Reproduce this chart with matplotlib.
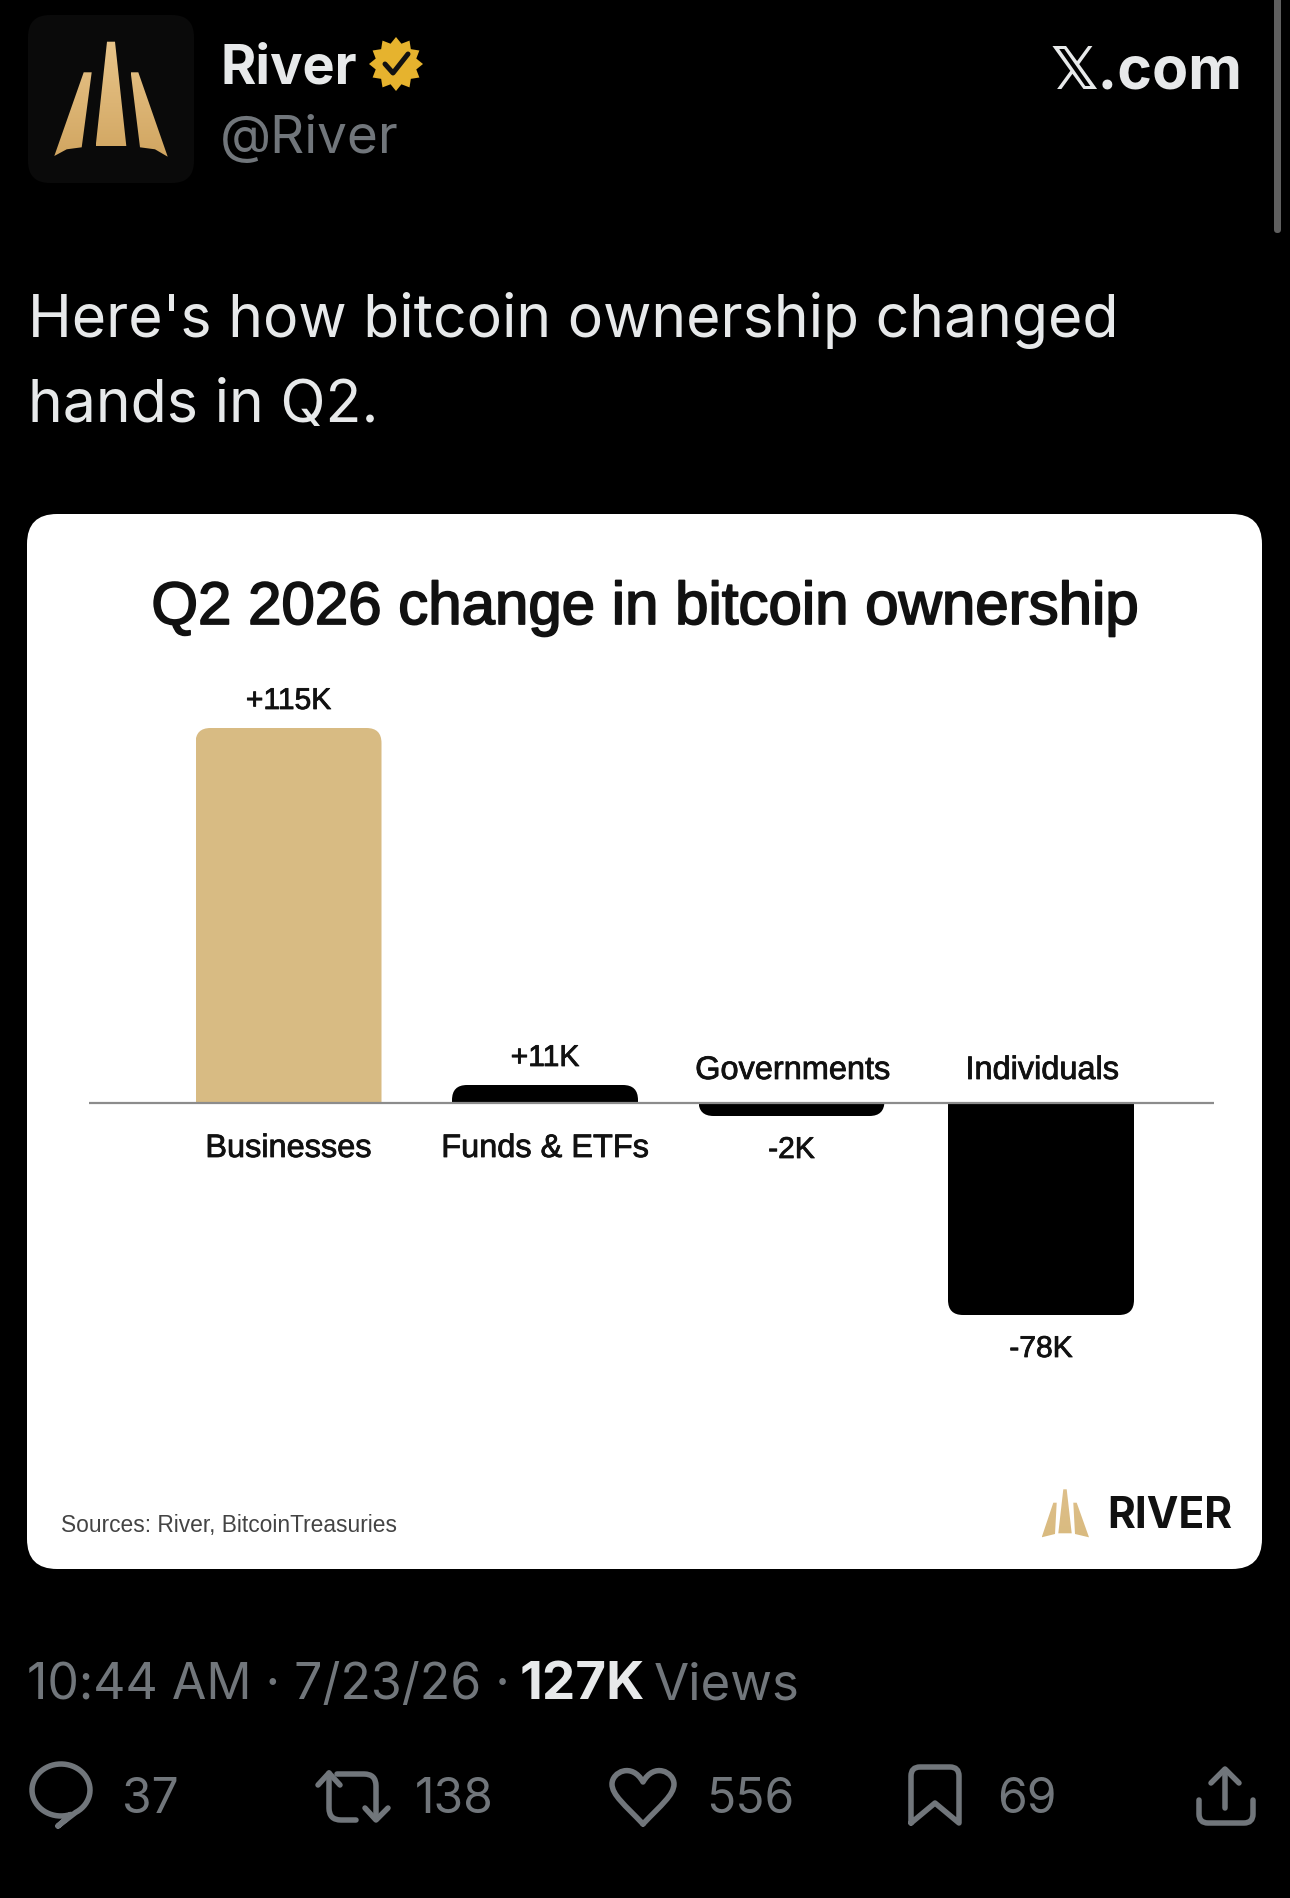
import matplotlib
matplotlib.use('Agg')
import matplotlib.pyplot as plt
import matplotlib.patheffects as pe
import numpy as np
from matplotlib.patches import FancyBboxPatch, PathPatch, Polygon
from matplotlib.path import Path
from matplotlib.transforms import IdentityTransform

# data
categories = ['Businesses', 'Funds & ETFs', 'Governments', 'Individuals']
values = [115, 11, -2, -78]
value_labels = ['+115K', '+11K', '-2K', '-78K']
counts = ['37', '138', '556', '69']

W, H = 1290, 1898
BG = '#000000'
LIGHT = '#e7e9ea'
GREY = '#71767b'
GOLD = '#d8bb83'
FONT = ['Inter', 'DejaVu Sans']
CHART_FONT = ['Liberation Sans', 'DejaVu Sans']
plt.rcParams['font.family'] = FONT


def fs(px):
    # font size in points for a size in pixels at dpi 100
    return px * 0.72


def thick(color, px):
    # the chart text is a medium weight that Liberation Sans does not have
    return [pe.withStroke(linewidth=px * 0.72, foreground=color)]


fig = plt.figure(figsize=(W / 100, H / 100), dpi=100, facecolor=BG)

# full figure axes in pixel coordinates for the tweet around the chart
bg = fig.add_axes([0, 0, 1, 1])
bg.set_xlim(0, W)
bg.set_ylim(H, 0)
bg.axis('off')


def txt(x, y, s, size, color=LIGHT, weight='normal', ha='left', **kw):
    return bg.text(x, y, s, fontsize=fs(size), color=color, fontweight=weight,
                   ha=ha, va='baseline', **kw)


def stroke(verts, codes=None, color=GREY, lw=5.5, **kw):
    p = PathPatch(Path(verts, codes), fill=False, ec=color, lw=lw * 0.72,
                  capstyle='round', joinstyle='round', **kw)
    bg.add_patch(p)


def rounded(x0, y0, x1, y1, r, color, **kw):
    p = FancyBboxPatch((x0, y0), x1 - x0, y1 - y0,
                       boxstyle=f'round,pad=0,rounding_size={r}',
                       fc=color, ec='none', **kw)
    bg.add_patch(p)
    return p


def logo(spikes, y_top, y_bot, c0, c1):
    # gold gradient clipped to the three spikes
    grad = np.linspace(0, 1, 64)[:, None, None]
    img = np.array(c0) * (1 - grad) + np.array(c1) * grad
    for pts in spikes:
        xs = [p[0] for p in pts]
        im = bg.imshow(img, extent=(min(xs), max(xs), y_bot, y_top), aspect='auto', zorder=3)
        poly = Polygon(pts, closed=True, transform=bg.transData, fc='none', ec='none')
        bg.add_patch(poly)
        im.set_clip_path(poly)
    bg.set_xlim(0, W)
    bg.set_ylim(H, 0)


# header
rounded(28, 15, 194, 183, 22, '#0a0a0a')
logo([[(107, 41.7), (115, 41.7), (126.3, 146), (95.7, 146)],
      [(83.7, 72.3), (91.7, 72.3), (81.7, 147.3), (66.7, 149.3), (54.3, 156)],
      [(130.7, 72.3), (138.3, 72.3), (167.7, 156.7), (155, 149.3), (140, 147.3)]],
     41, 158, (0.91, 0.77, 0.54), (0.82, 0.65, 0.38))
txt(220, 83, 'River', 54, weight='bold')
txt(220, 153, '@River', 53, color=GREY)
txt(1242, 88, '\U0001D54F.com', 59, weight='bold', ha='right')

# verified badge
ang = np.linspace(0, 2 * np.pi, 24, endpoint=False)
rad = np.where(np.arange(24) % 2 == 0, 27, 21)
bg.add_patch(Polygon(np.c_[396 + rad * np.sin(ang), 64 - rad * np.cos(ang)],
                     closed=True, fc='#e6b32e', ec='none'))
stroke([(385, 64), (393, 73), (408, 54)], color='#111111', lw=5)

# scroll bar
rounded(1274, -10, 1281, 233, 3.5, '#5f5f5f')

txt(28, 337, "Here's how bitcoin ownership changed", 59)
txt(28, 422, 'hands in Q2.', 59)

# white card
rounded(27, 514, 1262, 1569, 30, '#ffffff')
bg.text(644, 624, 'Q2 2026 change in bitcoin ownership', fontsize=fs(60), color='#111111',
        family=CHART_FONT, ha='center', va='baseline', path_effects=thick('#111111', 1.8))
bg.text(61, 1532, 'Sources: River, BitcoinTreasuries', fontsize=fs(22.8), color='#444444',
        family=CHART_FONT, va='baseline')
logo([[(1063.3, 1489.3), (1066.7, 1489.3), (1071.7, 1533.3), (1058.3, 1533.3)],
      [(1053.3, 1502.7), (1056.7, 1502.7), (1055, 1534), (1041.7, 1537.3)],
      [(1073.3, 1502.7), (1076.7, 1502.7), (1089, 1537.3), (1075, 1534)]],
     1489, 1538, (0.87, 0.75, 0.54), (0.85, 0.73, 0.50))
txt(1107, 1528, 'RIVER', 42.5, color='#111111', weight='bold')

# footer
txt(27, 1699, '10:44 AM · 7/23/26 ·', 50, color=GREY)
txt(520, 1699, '127K', 53, weight='bold')
txt(654, 1699, 'Views', 51, color=GREY)

for x, s in zip([122, 415, 706, 997], counts):
    txt(x, 1813, s, 48, color=GREY)

# reply bubble
t = np.radians(np.linspace(70, 420, 60))
bubble = np.c_[61 + 29 * np.cos(t), 1790 + 26 * np.sin(t)]
stroke(np.vstack([[(58, 1826)], bubble[::-1], [(58, 1826)]]))

# retweet
stroke([(318, 1785), (329, 1773), (340, 1785)])
stroke([(329, 1773), (329, 1808), (329, 1820), (341, 1820), (356, 1820)],
       [Path.MOVETO, Path.LINETO, Path.CURVE3, Path.CURVE3, Path.LINETO])
stroke([(337, 1774), (364, 1774), (376, 1774), (376, 1786), (376, 1819)],
       [Path.MOVETO, Path.LINETO, Path.CURVE3, Path.CURVE3, Path.LINETO])
stroke([(365, 1808), (376, 1820), (388, 1808)])

# heart
stroke([(643, 1824), (625, 1805), (612, 1795), (612, 1784),
        (612, 1772), (632, 1762), (643, 1782),
        (654, 1762), (674, 1772), (674, 1784),
        (674, 1795), (661, 1805), (643, 1824)],
       [Path.MOVETO] + [Path.CURVE4] * 12)

# bookmark
stroke([(911, 1823), (911, 1776), (911, 1767), (920, 1767), (950, 1767),
        (959, 1767), (959, 1776), (959, 1823), (935, 1803), (911, 1823)],
       [Path.MOVETO, Path.LINETO, Path.CURVE3, Path.CURVE3, Path.LINETO,
        Path.CURVE3, Path.CURVE3, Path.LINETO, Path.LINETO, Path.LINETO])

# share
stroke([(1225, 1770), (1225, 1808)])
stroke([(1211, 1783), (1225, 1769), (1239, 1783)])
stroke([(1199, 1800), (1199, 1814), (1199, 1823), (1208, 1823), (1244, 1823),
        (1253, 1823), (1253, 1814), (1253, 1800)],
       [Path.MOVETO, Path.LINETO, Path.CURVE3, Path.CURVE3, Path.LINETO,
        Path.CURVE3, Path.CURVE3, Path.LINETO])

# chart axes, the bars in the picture are not to one linear scale so the
# scale goes through the heights measured at each value
knot_val = [-300, -78, -2, 0, 11, 115, 300]
knot_px = [-850, -212, -13, 0, 18, 375, 976]


def forward(v):
    return np.interp(v, knot_val, knot_px)


def inverse(p):
    return np.interp(p, knot_px, knot_val)


ax_left, ax_right, ax_top, ax_bot = 89, 1214, 700, 1340
base_y = 1103
ax = fig.add_axes([ax_left / W, 1 - ax_bot / H, (ax_right - ax_left) / W, (ax_bot - ax_top) / H])
ax.patch.set_alpha(0)
ax.set_yscale('function', functions=(forward, inverse))
ax.set_ylim(inverse(base_y - ax_bot), inverse(base_y - ax_top))
ax.set_xlim(ax_left, ax_right)
ax.set_xticks([])
ax.set_yticks([])
ax.minorticks_off()
for s in ax.spines.values():
    s.set_visible(False)

centers = [288.5, 545, 791.5, 1041]
bar_w = 186
colors = [GOLD, '#000000', '#000000', '#000000']
bars = ax.bar(centers, values, width=bar_w, color=colors, zorder=2)
ax.axhline(0, color='#8c8c8c', lw=1.6, zorder=3)

# rounded outer corners of the bars
for b, v in zip(bars, values):
    (x0, y0), (x1, y1) = ax.transData.transform([(b.get_x(), min(v, 0)), (b.get_x() + b.get_width(), max(v, 0))])
    clip = FancyBboxPatch((x0, y0 - (40 if v > 0 else 0)), x1 - x0, y1 - y0 + 40,
                          boxstyle='round,pad=0,rounding_size=15', transform=IdentityTransform())
    b.set_clip_path(clip)

for x, v, lab, cat in zip(centers, values, value_labels, categories):
    up = v > 0
    ax.annotate(lab, (x, v), xytext=(0, 19 * 0.72 if up else -42 * 0.72), textcoords='offset points',
                ha='center', va='baseline', fontsize=fs(30), color='#111111', family=CHART_FONT,
                annotation_clip=False, path_effects=thick('#111111', 0.8))
    ax.annotate(cat, (x, 0), xytext=(1 if not up else 0, -54 * 0.72 if up else 24 * 0.72), textcoords='offset points',
                ha='center', va='baseline', fontsize=fs(32.5), color='#111111', family=CHART_FONT,
                annotation_clip=False, path_effects=thick('#111111', 0.8))

fig.savefig('out.png', dpi=100, facecolor=BG)
